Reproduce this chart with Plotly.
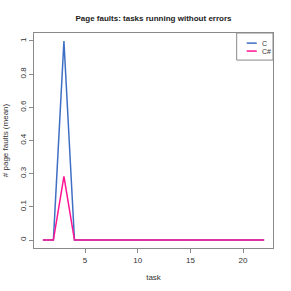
import plotly.graph_objects as go

tasks = list(range(1, 23))
c_values = [0, 0, 1.0] + [0] * 19
cs_values = [0, 0, 0.32] + [0] * 19
series_names = ["C", "C#"]
series_colors = ["#3F6FC4", "#FF1493"]
y_tickvals = [0, 1/6, 2/6, 3/6, 4/6, 5/6, 1]
y_ticktext = ["0", "0.1", "0.3", "0.4", "0.6", "0.8", "1"]
x_tickvals = [5, 10, 15, 20]

FONT = "Liberation Sans, Arial, sans-serif"
GRAY = "#8a8a8a"

fig = go.Figure()
for name, vals, col in zip(series_names, [c_values, cs_values], series_colors):
    fig.add_trace(go.Scatter(x=tasks, y=vals, mode="lines", name=name,
                             line=dict(color=col, width=1.5), showlegend=False))

# legend drawn in R style (small box at top-right of the plot)
fig.add_shape(type="rect", xref="paper", yref="paper", x0=0.848, x1=1, y0=0.874, y1=1,
              line=dict(color=GRAY, width=1), fillcolor="white", layer="above")
legend_y = [0.953, 0.916]
for name, col, ly in zip(series_names, series_colors, legend_y):
    fig.add_shape(type="line", xref="paper", yref="paper", x0=0.890, x1=0.932, y0=ly, y1=ly,
                  line=dict(color=col, width=1.5), layer="above")
    fig.add_annotation(xref="paper", yref="paper", x=0.945, y=ly, text=name, showarrow=False,
                       xanchor="left", yanchor="middle", font=dict(size=7, color="#333"))

fig.update_layout(
    width=291, height=291,
    margin=dict(l=34, r=18, t=33, b=43),
    paper_bgcolor="white", plot_bgcolor="white",
    font=dict(family=FONT, size=8, color="#333"),
    title=dict(text="<b>Page faults: tasks running without errors</b>",
               x=0.5, xref="paper", xanchor="center", y=1 - 18/291, yanchor="middle", yref="container",
               font=dict(size=8, color="#222")),
    showlegend=False,
)
fig.update_xaxes(range=[0.16, 22.84], tickvals=x_tickvals, ticks="outside", ticklen=4,
                 tickcolor=GRAY, showline=True, linecolor=GRAY, linewidth=1, mirror=True,
                 showgrid=False, zeroline=False, automargin=False,
                 title=dict(text="task", standoff=10, font=dict(size=8)))
fig.update_yaxes(range=[-0.04, 1.04], tickvals=y_tickvals, ticktext=y_ticktext,
                 tickangle=-90, ticks="outside", ticklen=4,
                 tickcolor=GRAY, showline=True, linecolor=GRAY, linewidth=1, mirror=True,
                 showgrid=False, zeroline=False, automargin=False,
                 title=dict(text="# page faults (mean)", standoff=8, font=dict(size=8)))

fig.write_html("out.html", config={"displayModeBar": False},
               post_script="document.body.style.margin='0';")
